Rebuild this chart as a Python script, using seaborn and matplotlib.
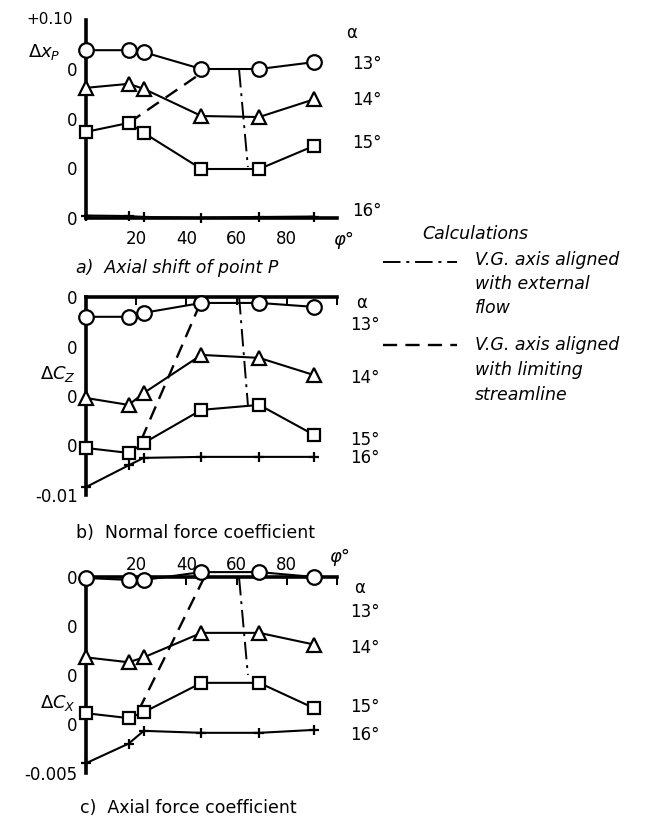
import numpy as np
import pandas as pd
import matplotlib
matplotlib.use("Agg")
import matplotlib.pyplot as plt
import seaborn as sns
from matplotlib.lines import Line2D

sns.set_theme(style="white")
plt.rcParams["font.family"] = ["DejaVu Sans"]
plt.rcParams["mathtext.fontset"] = "dejavusans"

# vortex generator angle phi (deg) and incidences
phi = [0, 17, 23, 46, 69, 91]
alphas = ["13°", "14°", "15°", "16°"]
markers = ["o", "^", "s", "+"]
msizes = [10.5, 10, 8, 7]

# a) axial shift of point P, each curve on its own zero
dxp_13 = [0.039, 0.039, 0.035, 0.001, 0.001, 0.015]
dxp_14 = [0.063, 0.071, 0.061, 0.006, 0.004, 0.040]
dxp_15 = [0.074, 0.092, 0.072, -0.001, -0.001, 0.046]
dxp_16 = [0.005, 0.004, 0.002, 0.000, 0.002, 0.003]
off_a = [0.30, 0.20, 0.10, 0.0]

# b) normal force coefficient
dcz_13 = [-0.0040, -0.0040, -0.0032, -0.0012, -0.0012, -0.0020]
dcz_14 = [-0.0104, -0.0118, -0.0094, -0.0017, -0.0023, -0.0058]
dcz_15 = [-0.0105, -0.0115, -0.0095, -0.0028, -0.0018, -0.0079]
dcz_16 = [-0.0084, -0.0040, -0.0025, -0.0023, -0.0023, -0.0023]
off_b = [0.03, 0.02, 0.01, 0.0]

# c) axial force coefficient
dcx_13 = [-0.0001, -0.0003, -0.0003, 0.0005, 0.0005, 0.0000]
dcx_14 = [-0.0032, -0.0037, -0.0032, -0.0007, -0.0007, -0.0019]
dcx_15 = [-0.0039, -0.0044, -0.0038, -0.0008, -0.0008, -0.0034]
dcx_16 = [-0.0040, -0.0020, -0.0007, -0.0009, -0.0009, -0.0006]
off_c = [0.015, 0.010, 0.005, 0.0]

# calculations: V.G. axis aligned with external flow / with limiting streamline
ext_a_phi, ext_a_y = [61, 64.5], [0.299, 0.103]
lim_a_phi, lim_a_y = [17, 46], [0.192, 0.293]
ext_b_phi, ext_b_y = [61, 64.5], [0.030, 0.0082]
lim_b_phi, lim_b_y = [22, 45.6], [0.0011, 0.0288]
ext_c_phi, ext_c_y = [61, 64.5], [0.0149, 0.0050]
lim_c_phi, lim_c_y = [21, 47], [0.0014, 0.0149]

W, H = 661, 825
fig = plt.figure(figsize=(W / 100, H / 100), dpi=100)


def box(left, top, right, bottom):
    return [left / W, 1 - bottom / H, (right - left) / W, (bottom - top) / H]


ax_a = fig.add_axes(box(86, 20, 337, 218))
ax_b = fig.add_axes(box(86, 297, 337, 495))
ax_c = fig.add_axes(box(86, 577, 337, 773))

DASHDOT = (0, (9, 3, 1.5, 3))
DASHED = (0, (6, 3.5))


def draw_panel(ax, series, offsets, ext, lim):
    for vals, off, m, ms in zip(series, offsets, markers, msizes):
        y = np.array(vals) + off
        sns.lineplot(x=phi, y=y, ax=ax, color="black", lw=1.5, marker=m,
                     markersize=ms, markerfacecolor="white",
                     markeredgecolor="black", markeredgewidth=1.6,
                     clip_on=False, zorder=3)
    sns.lineplot(x=ext[0], y=ext[1], ax=ax, color="black", lw=1.4,
                 linestyle=DASHDOT, clip_on=False, zorder=2)
    sns.lineplot(x=lim[0], y=lim[1], ax=ax, color="black", lw=1.7,
                 linestyle=DASHED, clip_on=False, zorder=2)
    ax.set_xlim(0, 100)
    ax.set_xlabel("")
    ax.set_ylabel("")
    ax.grid(False)
    ax.spines["right"].set_visible(False)
    for s in ax.spines.values():
        s.set_linewidth(2.6)
        s.set_color("black")
    ax.tick_params(axis="y", direction="in", length=8, width=1.6,
                   labelsize=12, pad=6, colors="black")
    ax.tick_params(axis="x", direction="in", length=6, width=1.4,
                   labelsize=12, colors="black")


draw_panel(ax_a, [dxp_13, dxp_14, dxp_15, dxp_16], off_a,
           (ext_a_phi, ext_a_y), (lim_a_phi, lim_a_y))
ax_a.set_ylim(0, 0.40)
ax_a.set_yticks([0, 0.1, 0.2, 0.3, 0.4])
ax_a.set_yticklabels(["0", "0", "0", "0", ""])
ax_a.spines["top"].set_visible(False)
ax_a.set_xticks([20, 40, 60, 80, 100])
ax_a.set_xticklabels(["20", "40", "60", "80", ""])
ax_a.tick_params(axis="x", pad=9)

draw_panel(ax_b, [dcz_13, dcz_14, dcz_15, dcz_16], off_b,
           (ext_b_phi, ext_b_y), (lim_b_phi, lim_b_y))
ax_b.set_ylim(-0.01, 0.03)
ax_b.set_yticks([-0.01, 0.0, 0.01, 0.02, 0.03])
ax_b.set_yticklabels(["-0.01", "0", "0", "0", "0"])
ax_b.spines["bottom"].set_visible(False)
ax_b.xaxis.tick_top()
ax_b.set_xticks([20, 40, 60, 80, 100])
ax_b.set_xticklabels([])

draw_panel(ax_c, [dcx_13, dcx_14, dcx_15, dcx_16], off_c,
           (ext_c_phi, ext_c_y), (lim_c_phi, lim_c_y))
ax_c.set_ylim(-0.005, 0.015)
ax_c.set_yticks([-0.005, 0.0, 0.005, 0.01, 0.015])
ax_c.set_yticklabels(["-0.005", "0", "0", "0", "0"])
ax_c.spines["bottom"].set_visible(False)
ax_c.xaxis.tick_top()
ax_c.set_xticks([20, 40, 60, 80, 100])
ax_c.set_xticklabels(["20", "40", "60", "80", ""])
ax_c.tick_params(axis="x", pad=2)


def ftext(x, y, s, **kw):
    kw.setdefault("fontsize", 12)
    kw.setdefault("va", "center")
    fig.text(x / W, 1 - y / H, s, color="black", **kw)


# axis annotations
ftext(73, 20, "+0.10", ha="right", fontsize=11)
ftext(28, 52, r"$\Delta x_{P}$", ha="left", fontsize=13)
ftext(40, 374, r"$\Delta C_{Z}$", ha="left", fontsize=13)
ftext(40, 703, r"$\Delta C_{X}$", ha="left", fontsize=13)
ftext(333, 240, "φ°", ha="left", fontsize=13, style="italic")
ftext(329, 557, "φ°", ha="left", fontsize=13, style="italic")

# incidence labels at right
for lab, (x, y) in zip(["α"] + alphas,
                       [(346, 33), (352, 64), (352, 100), (352, 143), (352, 211)]):
    ftext(x, y, lab, ha="left")
for lab, (x, y) in zip(["α"] + alphas,
                       [(356, 303), (350, 325), (350, 378), (350, 440), (350, 458)]):
    ftext(x, y, lab, ha="left")
for lab, (x, y) in zip(["α"] + alphas,
                       [(354, 588), (350, 612), (350, 648), (350, 707), (350, 735)]):
    ftext(x, y, lab, ha="left")

# captions
ftext(76, 268, "a)  Axial shift of point P", ha="left", style="italic", fontsize=12.5)
ftext(76, 533, "b)  Normal force coefficient", ha="left", fontsize=12.5)
ftext(80, 808, "c)  Axial force coefficient", ha="left", fontsize=12.5)

# legend for the calculations
ftext(422, 234, "Calculations", ha="left", style="italic", fontsize=12.5)
fig.add_artist(Line2D([383 / W, 457 / W], [1 - 262 / H, 1 - 262 / H],
                      color="black", lw=1.4, linestyle=DASHDOT))
fig.add_artist(Line2D([383 / W, 457 / W], [1 - 345 / H, 1 - 345 / H],
                      color="black", lw=1.7, linestyle=DASHED))
for i, line in enumerate(["V.G. axis aligned", "with external", "flow"]):
    ftext(475, 260 + 24 * i, line, ha="left", style="italic", fontsize=12.5)
for i, line in enumerate(["V.G. axis aligned", "with limiting", "streamline"]):
    ftext(475, 345 + 25 * i, line, ha="left", style="italic", fontsize=12.5)

fig.savefig("out.png", dpi=100, facecolor="white")
